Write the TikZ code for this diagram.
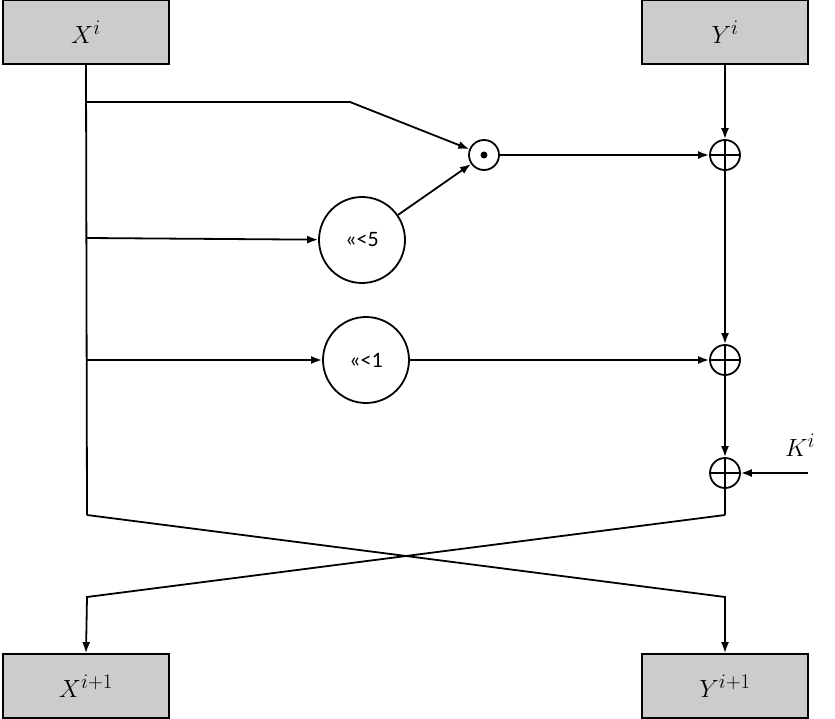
\documentclass[tikz,border=0pt]{standalone}
\usepackage{fontspec}
\setmainfont{Carlito}
\usetikzlibrary{positioning,calc,arrows.meta}
\begin{document}
\begin{tikzpicture}[x=1pt,y=-1pt,line width=1.8pt,>={Latex[length=11pt,width=8pt]}]
  \tikzstyle{regbox}=[draw,fill=gray!40,minimum width=166,minimum height=64,inner sep=0,font=\fontsize{30}{32}\selectfont]
  \tikzstyle{xorop}=[draw,circle,minimum size=30,inner sep=0]
  \tikzstyle{rotop}=[draw,circle,minimum size=86,inner sep=0,font=\fontsize{22}{24}\selectfont]
  \useasboundingbox (0,0) rectangle (835,719);
  {
    \node[regbox] (xi) at (86,32) {$X^i$};
    \node[regbox] (yi) at (725,32) {$Y^i$};
    \node[regbox] (xo) at (86,686) {$X^{i+1}$};
    \node[regbox] (yo) at (725,686) {$Y^{i+1}$};
    \node[xorop] (and) at (484,155) {};
    \fill (and.center) circle (3.5);
    \node[rotop] (r5) at (362,240) {<<<5};
    \node[rotop] (r1) at (366,360) {<<<1};
    \node[xorop] (x1) at (725,155) {};
    \node[xorop] (x2) at (725,360) {};
    \node[xorop] (x3) at (725,473) {};
    \foreach \n in {x1,x2,x3}
      \draw (\n.north) -- (\n.south) (\n.west) -- (\n.east);
    \node[font=\fontsize{30}{32}\selectfont] (ki) at (800,445) {$K^i$};
    \coordinate (kin) at (808,473);
    \coordinate (la) at (87,515);
    \coordinate (ra) at (725,515);
    \coordinate (lb) at (87,597);
    \coordinate (rb) at (725,597);

    \draw (xi.south) -- (la);
    \draw[->] (87,102) -- (350,102) -- (and);
    \draw[->] (87,238) -- (r5);
    \draw[->] (r5) -- (and);
    \draw[->] (and) -- (x1);
    \draw[->] (yi.south) -- (x1);
    \draw[->] (x1) -- (x2);
    \draw[->] (87,360) -- (r1);
    \draw[->] (r1) -- (x2);
    \draw[->] (x2) -- (x3);
    \draw[->] (kin) -- (x3);
    \draw (x3) -- (ra);
    \draw[->] (la) -- (rb) -- (yo.north);
    \draw[->] (ra) -- (lb) -- (xo.north);
  }
\end{tikzpicture}
\end{document}
